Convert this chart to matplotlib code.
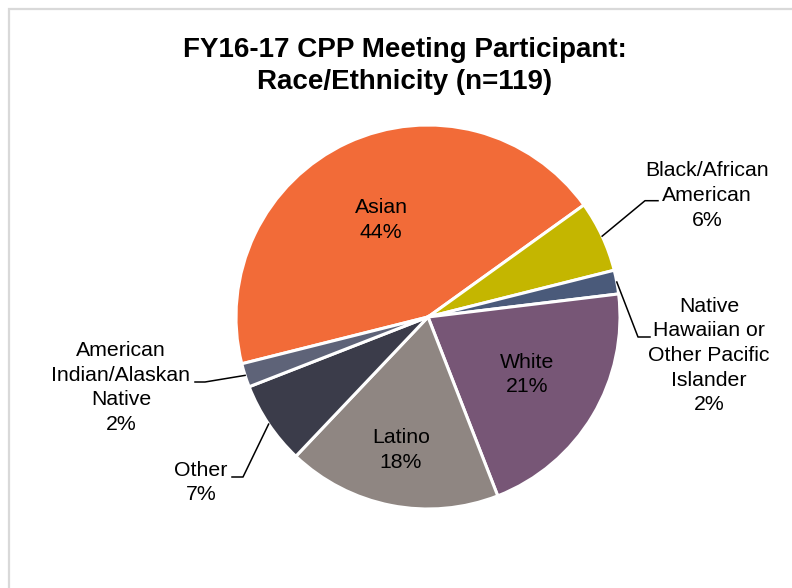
import numpy as np
import matplotlib
matplotlib.use("Agg")
import matplotlib.pyplot as plt
from matplotlib.lines import Line2D

# ---- data ----
categories = ["Asian", "Black/African\nAmerican", "Native\nHawaiian or\nOther Pacific\nIslander",
              "White", "Latino", "Other", "American\nIndian/Alaskan\nNative"]
percents = [44, 6, 2, 21, 18, 7, 2]
colors = ["#F26B38", "#C4B600", "#4A5A7A", "#775676", "#8F8682", "#3B3C4A", "#5E6378"]
title = "FY16-17 CPP Meeting Participant:\nRace/Ethnicity (n=119)"

plt.rcParams['font.family'] = ['Liberation Sans', 'DejaVu Sans']

W, H = 792, 588
CX, CY, R = 428, 317, 192

fig = plt.figure(figsize=(W / 100, H / 100), dpi=100)
ax = fig.add_axes([0, 0, 1, 1])


def P(x, y):
    return ((x - CX) / R, (CY - y) / R)


wedges, _ = ax.pie(percents, colors=colors, startangle=194.1, counterclock=False,
                   radius=1.0, center=(0, 0),
                   wedgeprops=dict(edgecolor="white", linewidth=2.2))
ax.set_xlim(-CX / R, (W - CX) / R)
ax.set_ylim(-(H - CY) / R, CY / R)
ax.set_aspect('auto')
ax.axis('off')

FS = 15.3
LS = 1.38

# inside labels: (index, pixel center)
inside = {0: (381, 220), 3: (527, 374.5), 4: (401, 450)}
for i, (x, y) in inside.items():
    tx, ty = P(x, y)
    ax.text(tx, ty, f"{categories[i]}\n{percents[i]}%", ha='center', va='center',
            fontsize=FS, linespacing=LS, color='black')

# outside labels: index -> (text center, elbow, end)
outside = {
    1: ((707, 195.5), (645, 200.7), (658, 200.7)),
    2: ((709, 355.5), (638, 337), (650, 337)),
    6: ((121, 387.5), (205, 382), (195, 382)),
    5: ((201, 482.5), (243, 477), (232, 477)),
}
for i, (tc, elbow, end) in outside.items():
    w = wedges[i]
    mid = np.deg2rad((w.theta1 + w.theta2) / 2)
    sx, sy = np.cos(mid) * 1.0, np.sin(mid) * 1.0
    ex, ey = P(*elbow)
    nx, ny = P(*end)
    ax.add_line(Line2D([sx, ex, nx], [sy, ey, ny], color='black', lw=1.1))
    tx, ty = P(*tc)
    ax.text(tx, ty, f"{categories[i]}\n{percents[i]}%", ha='center', va='center',
            fontsize=FS, linespacing=LS, color='black')

# title
tx, ty = P(405, 66)
ax.text(tx, ty, title, ha='center', va='center', fontsize=20, fontweight='bold',
        linespacing=1.27, color='black')

# chart border (partially visible)
bx0, by0 = P(9, 9)
bx1, by1 = P(W + 5, H + 5)
ax.add_line(Line2D([bx1, bx0, bx0], [by0, by0, by1], color='#D9D9D9', lw=1.6,
                   solid_joinstyle='miter'))

fig.savefig("out.png", dpi=100)
